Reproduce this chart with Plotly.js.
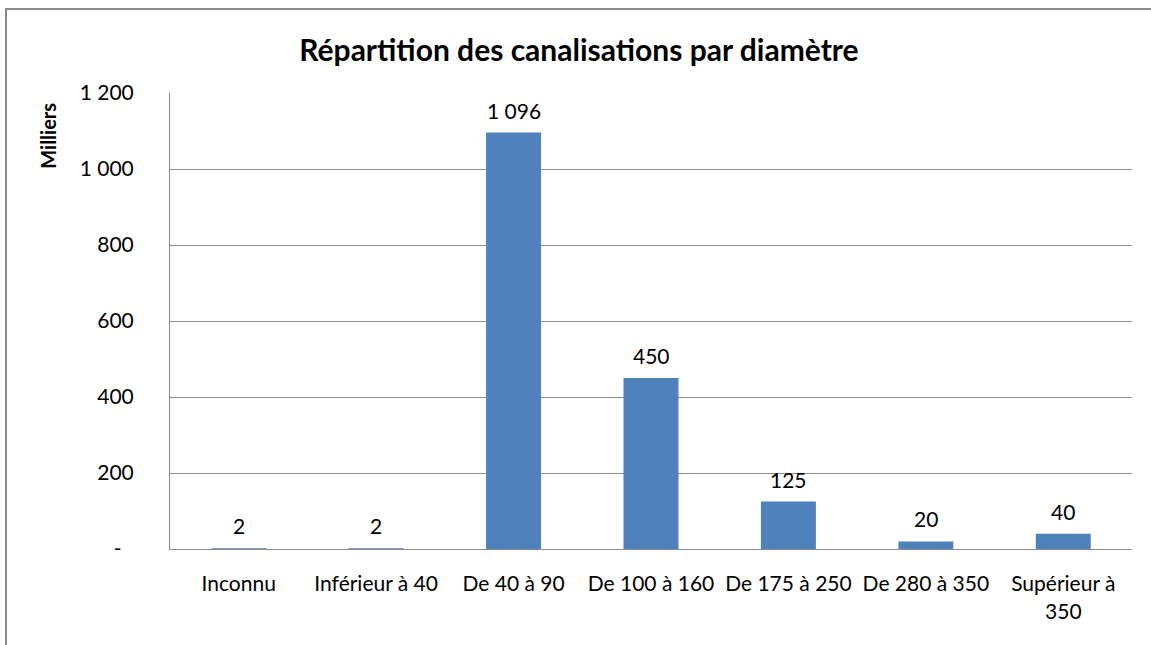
<!DOCTYPE html>
<html>
<head>
<meta charset="utf-8">
<script src="https://cdn.plot.ly/plotly-3.0.1.min.js"></script>
<style>
html,body{margin:0;padding:0;background:#fff;}
#frame{position:absolute;left:5px;top:8px;width:1200px;height:700px;border-left:2px solid #8c8c8c;border-top:2px solid #8c8c8c;box-sizing:border-box;}
#chart{position:absolute;left:0;top:0;width:1151px;height:645px;}
</style>
</head>
<body>
<div id="frame"></div>
<div id="chart"></div>
<script>
const categories = ["Inconnu", "Inférieur à 40", "De 40 à 90", "De 100 à 160", "De 175 à 250", "De 280 à 350", "Supérieur à<br>350"];
const values = [2, 2, 1096, 450, 125, 20, 40];
const tickValsY = [0, 200, 400, 600, 800, 1000, 1200];
const tickTextY = ["-\u2007", "200", "400", "600", "800", "1 000", "1 200"];
const yTitle = "Milliers";
const chartTitle = "Répartition des canalisations par diamètre";

function fmt(v){ return String(v).replace(/\B(?=(\d{3})+(?!\d))/g, " "); }

const FONT = "Lato, 'Noto Sans', sans-serif";
const FS = 21;

const trace = {
  type: "bar",
  x: categories,
  y: values,
  marker: {color: "#4F81BD"},
  hoverinfo: "skip"
};

const annotations = categories.map((c, i) => ({
  x: c, y: values[i], xref: "x", yref: "y",
  text: fmt(values[i]),
  showarrow: false, yanchor: "bottom", yshift: 8,
  font: {family: FONT, size: FS, color: "#000"}
}));
annotations.push({
  text: "<b>" + yTitle + "</b>",
  xref: "paper", yref: "paper",
  x: -0.127, y: 0.906, xanchor: "center", yanchor: "middle",
  textangle: -90, showarrow: false,
  font: {family: FONT, size: 20, color: "#000"}
});

const layout = {
  width: 1151, height: 645,
  paper_bgcolor: "rgba(0,0,0,0)",
  plot_bgcolor: "rgba(0,0,0,0)",
  margin: {l: 170, r: 19, t: 93, b: 96},
  showlegend: false,
  bargap: 0.6,
  font: {family: FONT, size: FS, color: "#000"},
  title: {
    text: "<b>" + chartTitle + "</b>",
    x: 0.503, xref: "container", xanchor: "center",
    y: 0.922, yref: "container", yanchor: "middle",
    font: {family: FONT, size: 30, color: "#000"}
  },
  xaxis: {
    type: "category",
    showgrid: false,
    showline: true, linecolor: "#8c8c8c", linewidth: 1,
    ticks: "", ticklabelstandoff: 16,
    tickfont: {family: FONT, size: FS, color: "#000"},
    fixedrange: true
  },
  yaxis: {
    range: [0, 1200],
    tickvals: tickValsY, ticktext: tickTextY,
    showgrid: true, gridcolor: "#8c8c8c", gridwidth: 1,
    showline: true, linecolor: "#8c8c8c", linewidth: 1,
    zeroline: false,
    ticks: "", ticklabelstandoff: 31,
    tickfont: {family: FONT, size: FS, color: "#000"},
    fixedrange: true
  },
  annotations: annotations
};

Plotly.newPlot("chart", [trace], layout, {displayModeBar: false, staticPlot: true});
</script>
</body>
</html>
